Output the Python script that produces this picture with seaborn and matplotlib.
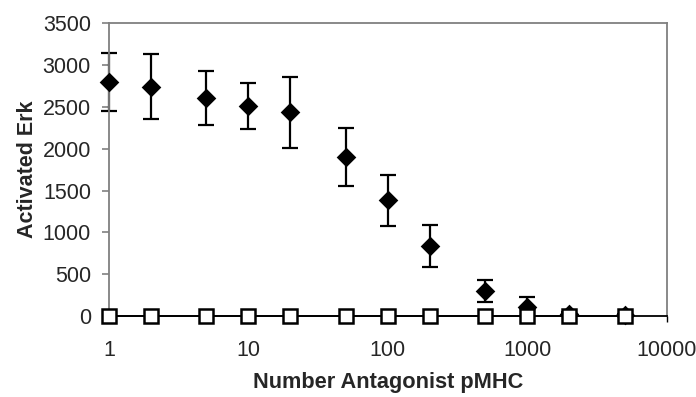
import matplotlib
matplotlib.use("Agg")
import matplotlib.pyplot as plt
import seaborn as sns
import numpy as np
import pandas as pd

# Data
antagonist = [1, 2, 5, 10, 20, 50, 100, 200, 500, 1000, 2000, 5000]
erk_diamond = [2800, 2745, 2610, 2510, 2435, 1905, 1385, 835, 300, 110, 20, 10]
erk_diamond_err = [345, 385, 325, 275, 420, 350, 305, 250, 130, 115, 25, 15]
erk_square = [0, 0, 0, 0, 0, 0, 0, 0, 0, 0, 0, 0]
x_ticks = [1, 10, 100, 1000, 10000]
x_tick_labels = ["1", "10", "100", "1000", "10000"]
y_ticks = [0, 500, 1000, 1500, 2000, 2500, 3000, 3500]

sns.set_style("white")
plt.rcParams['font.family'] = ['Liberation Sans', 'DejaVu Sans']

df = pd.DataFrame({"x": antagonist, "d": erk_diamond, "e": erk_diamond_err, "s": erk_square})

fig = plt.figure(figsize=(6.96, 3.97), dpi=100)
ax = fig.add_axes([0.1566, 0.204, 0.958 - 0.1566, 0.941 - 0.204])

ax.errorbar(df["x"], df["d"], yerr=df["e"], fmt="none", ecolor="black",
            elinewidth=1.6, capsize=5.5, capthick=1.6, zorder=2, clip_on=False)
sns.scatterplot(data=df, x="x", y="d", marker="D", s=100, color="black",
                edgecolor="black", linewidth=0, ax=ax, zorder=3, clip_on=False)
sns.lineplot(data=df, x="x", y="s", color="black", linewidth=1.3, marker="s",
             markersize=10, markerfacecolor="white", markeredgecolor="black",
             markeredgewidth=1.8, ax=ax, zorder=4, clip_on=False)

ax.set_xscale("log")
ax.set_xlim(1, 10000)
ax.set_ylim(0, 3500)
ax.set_xticks(x_ticks)
ax.set_xticklabels(x_tick_labels)
ax.minorticks_off()
ax.set_yticks(y_ticks)

for s in ["left", "top", "right"]:
    ax.spines[s].set_color("#808080")
    ax.spines[s].set_linewidth(1.3)
ax.spines["bottom"].set_color("black")
ax.spines["bottom"].set_linewidth(1.3)

ax.tick_params(axis="y", which="major", direction="out", length=5, width=1.2,
               color="#808080", labelsize=15.5, pad=8, left=True)
ax.tick_params(axis="x", which="major", direction="out", length=4, width=1.0,
               color="black", labelsize=15.5, pad=13, bottom=True)

ax.set_xlabel("Number Antagonist pMHC", fontsize=15.7, fontweight="bold", labelpad=8)
ax.set_ylabel("Activated Erk", fontsize=15.5, fontweight="bold", labelpad=3)

fig.savefig("out.png", dpi=100)
